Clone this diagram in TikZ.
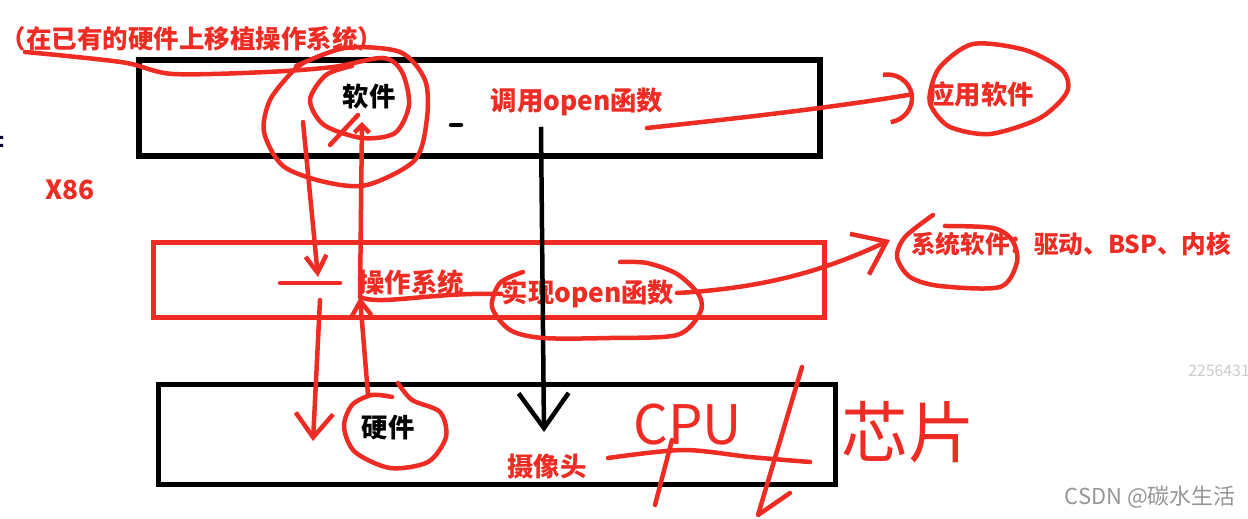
\documentclass[tikz,border=0pt]{standalone}
\usepackage{fontspec}
\setmainfont{Noto Sans CJK SC}
\usetikzlibrary{arrows.meta}
\definecolor{inkred}{RGB}{238,44,36}
\definecolor{markgray}{RGB}{150,150,150}
\tikzset{
  redpen/.style={draw=inkred, line width=0.09cm, line cap=round, line join=round},
  redtext/.style={text=inkred, font=\bfseries\fontsize{15}{18}\selectfont, inner sep=0pt},
  blacktext/.style={redtext, text=black},
  layerbox/.style={draw=black, line width=0.12cm, inner sep=0pt},
  handtext/.style={text=inkred, inner sep=0pt},
}
\begin{document}
\begin{tikzpicture}[x=0.02cm, y=-0.02cm, >=stealth]
    \useasboundingbox[fill=white] (0,0) rectangle (1248,519);

    % the three layers
    \node[layerbox, minimum width=13.63cm, minimum height=1.92cm] (appbox) at (479.25,108) {};
    \node[layerbox, draw=inkred, line width=0.1cm, minimum width=13.44cm, minimum height=1.5cm] (osbox) at (489,280) {};
    \node[layerbox, line width=0.11cm, minimum width=13.54cm, minimum height=2cm] (hwbox) at (497,434.5) {};

    % labels
    \node[redtext, font=\bfseries\fontsize{14.5}{17}\selectfont] (title) at (192,39) {（在已有的硬件上移植操作系统）};
    \node[blacktext] (soft) at (369,97) {软件};
    \node[redtext] (callopen) at (577,102) {调用open函数};
    \node[redtext] (appsoft) at (981,94) {应用软件};
    \node[redtext] (xeightysix) at (70,190) {X86};
    \node[redtext] (os) at (411,282) {操作系统};
    \node[redtext] (implopen) at (588,294) {实现open函数};
    \node[redtext, font=\bfseries\fontsize{14}{17}\selectfont, anchor=west] (syssoft) at (911,244) {系统软件：驱动、BSP、内核};
    \node[blacktext] (hw) at (388,428) {硬件};
    \node[redtext] (camera) at (547,467) {摄像头};
    \node[handtext, font=\fontsize{31}{34}\selectfont] (cpu) at (688,425) {CPU};
    \node[handtext, font=\fontsize{38}{40}\selectfont] (chip) at (908,432) {芯片};

    % watermarks
    \node[text=black!20, font=\fontsize{9}{10}\selectfont, anchor=west, inner sep=0pt] (wmnum) at (1188,371) {2256431};
    \node[text=markgray, font=\fontsize{12.5}{14}\selectfont, anchor=east, inner sep=0pt] (wmcsdn) at (1236,497) {CSDN @碳水生活};

    % stray marks
    \draw[line width=0.09cm, line cap=round] (451,125) -- (461,125);
    \fill[black!80!blue] (0,136) rectangle (3,139) (0,144) rectangle (3,147);

    % black call arrow
    \coordinate (calltop) at (541,127);
    \coordinate (camtip) at (544,432);
    \draw[line width=0.09cm, -{Straight Barb[length=0.7cm, width=1cm]}] (calltop) -- (camtip);

    % loops round the words
    \draw[redpen] plot[smooth] coordinates {(25,52) (67,56) (127,63) (173,74) (267,72) (333,67) (383,58) (402,72) (409,105) (395,133) (362,138) (324,125) (310,100) (326,75) (352,66)};
    \draw[redpen] plot[smooth] coordinates {(296,66) (345,48) (400,52) (425,80) (427,118) (415,160) (367,185) (325,182) (283,166) (264,132) (270,100) (292,72) (305,62)};
    \draw[redpen] plot[smooth cycle] coordinates {(930,93) (940,67) (973,44) (1025,50) (1062,70) (1067,92) (1040,118) (990,134) (950,127) (932,108)};
    \draw[redpen] plot[smooth] coordinates {(933,215) (905,237) (897,257) (910,277) (940,286) (1000,287) (1017,262) (1012,240) (993,228) (945,226)};
    \draw[redpen] plot[smooth] coordinates {(523,272) (500,283) (492,307) (510,330) (543,338) (610,338) (677,335) (700,313) (699,295) (677,274) (647,263) (620,262)};
    \draw[redpen] plot[smooth] coordinates {(398,383) (412,400) (440,412) (446,437) (428,462) (390,468) (355,452) (344,427) (352,405) (372,395) (392,397)};

    % connectors
    \coordinate (callout) at (647,128);
    \draw[redpen, -{Arc Barb[length=0.55cm, width=1.05cm]}] (callout) .. controls (740,118) and (830,108) .. ([xshift=-0.28cm]appsoft.west);
    \coordinate (implout) at (677,293);
    \draw[redpen, -{Straight Barb[length=0.6cm, width=0.9cm]}] (implout) .. controls (770,288) and (830,268) .. ([xshift=-0.42cm, yshift=0.08cm]syssoft.west);

    % software down to hardware
    \coordinate (downtop) at (303,122);
    \coordinate (downmid) at (318,277);
    \draw[redpen, -{Straight Barb[length=0.34cm, width=0.42cm]}] (downtop) -- (downmid);
    \draw[redpen] (280,283) -- (340,283);
    \coordinate (downlow) at (320,300);
    \coordinate (downtip) at (313,441);
    \draw[redpen, -{Straight Barb[length=0.48cm, width=0.75cm]}] (downlow) -- (downtip);

    % hardware back up to software
    \coordinate (upbottom) at (368,395);
    \coordinate (upmid) at (360,297);
    \coordinate (uptop) at (362,122);
    \draw[redpen, -{Straight Barb[length=0.3cm, width=0.4cm]}] (upbottom) -- (upmid);
    \draw[redpen, -{Straight Barb[length=0.15cm, width=0.3cm]}] (upmid) -- (uptop);
    \draw[redpen] (330,145) -- (358,115);
    \draw[redpen] (implopen.west) .. controls (430,292) and (380,306) .. (upmid);

    % cpu strokes
    \draw[redpen] plot[smooth] coordinates {(608,458) (683,450) (750,457) (810,462)};
    \draw[redpen] (672,440) -- (655,505);
    \draw[redpen] (802,367) -- (758,515) -- (790,493);
\end{tikzpicture}
\end{document}
